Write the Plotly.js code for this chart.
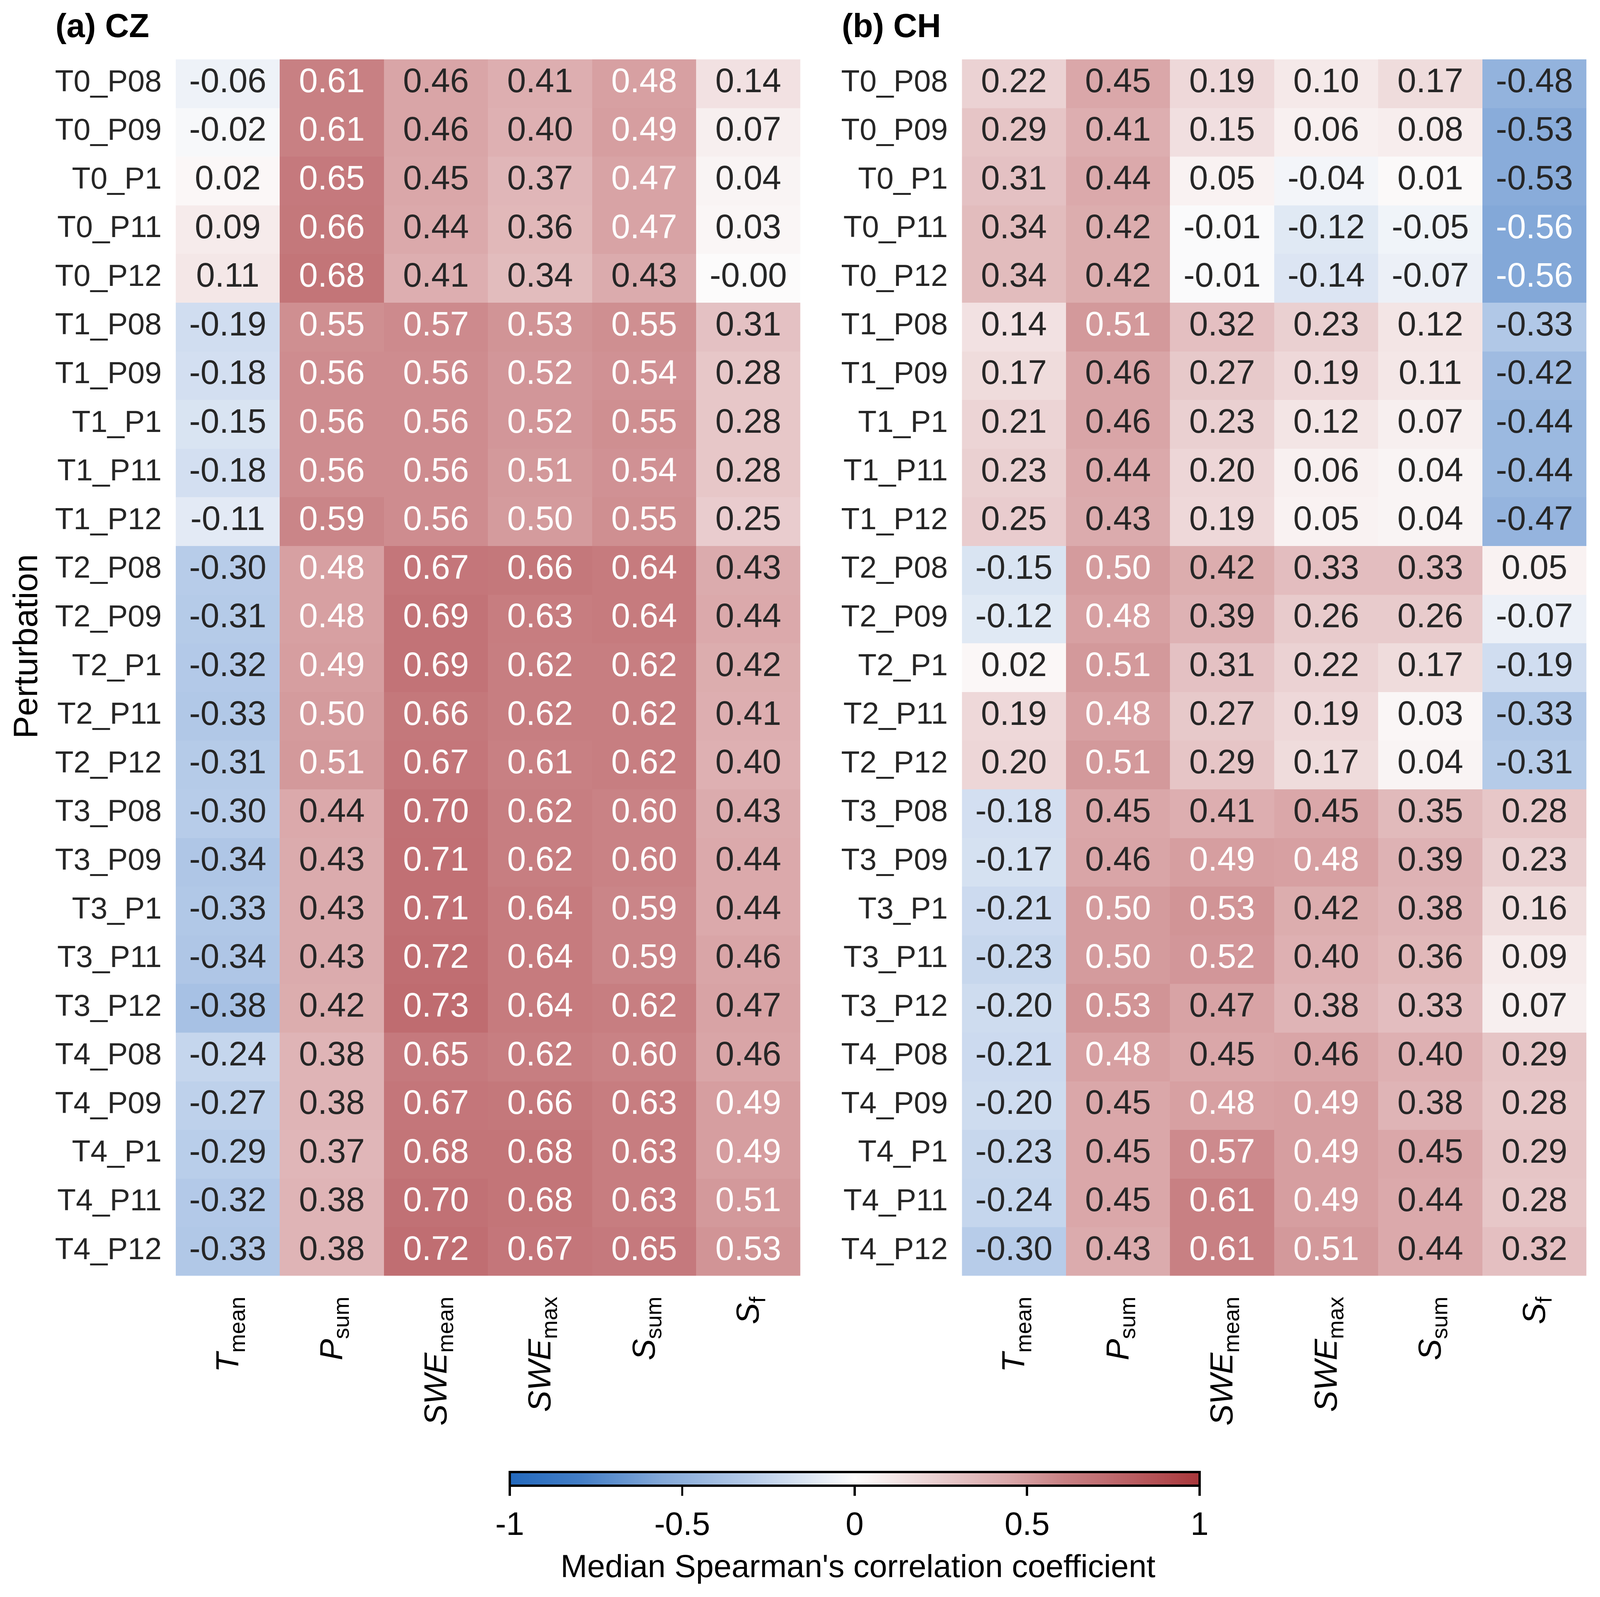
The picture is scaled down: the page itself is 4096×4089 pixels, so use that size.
<!DOCTYPE html>
<html>
<head>
<meta charset="utf-8">
<script src="https://cdn.plot.ly/plotly-3.0.1.min.js"></script>
<style>
  html, body { margin: 0; padding: 0; background: #ffffff; }
  #chart { width: 4096px; height: 4089px; }
</style>
</head>
<body>
<div id="chart"></div>
<script>
// ---------------- data ----------------
const rows = ['T0_P08','T0_P09','T0_P1','T0_P11','T0_P12',
              'T1_P08','T1_P09','T1_P1','T1_P11','T1_P12',
              'T2_P08','T2_P09','T2_P1','T2_P11','T2_P12',
              'T3_P08','T3_P09','T3_P1','T3_P11','T3_P12',
              'T4_P08','T4_P09','T4_P1','T4_P11','T4_P12'];
const cols = ['Tmean','Psum','SWEmean','SWEmax','Ssum','Sf'];
const colLabels = ['<i>T</i><sub>mean</sub>','<i>P</i><sub>sum</sub>','<i>SWE</i><sub>mean</sub>',
                   '<i>SWE</i><sub>max</sub>','<i>S</i><sub>sum</sub>','<i>S</i><sub>f</sub>'];
const cbTicks = [-1, -0.5, 0, 0.5, 1];
const cbTickText = ['-1', '-0.5', '0', '0.5', '1'];

// (a) CZ
const czTmean   = [-0.06,-0.02,0.02,0.09,0.11, -0.19,-0.18,-0.15,-0.18,-0.11, -0.30,-0.31,-0.32,-0.33,-0.31, -0.30,-0.34,-0.33,-0.34,-0.38, -0.24,-0.27,-0.29,-0.32,-0.33];
const czPsum    = [0.61,0.61,0.65,0.66,0.68, 0.55,0.56,0.56,0.56,0.59, 0.48,0.48,0.49,0.50,0.51, 0.44,0.43,0.43,0.43,0.42, 0.38,0.38,0.37,0.38,0.38];
const czSWEmean = [0.46,0.46,0.45,0.44,0.41, 0.57,0.56,0.56,0.56,0.56, 0.67,0.69,0.69,0.66,0.67, 0.70,0.71,0.71,0.72,0.73, 0.65,0.67,0.68,0.70,0.72];
const czSWEmax  = [0.41,0.40,0.37,0.36,0.34, 0.53,0.52,0.52,0.51,0.50, 0.66,0.63,0.62,0.62,0.61, 0.62,0.62,0.64,0.64,0.64, 0.62,0.66,0.68,0.68,0.67];
const czSsum    = [0.48,0.49,0.47,0.47,0.43, 0.55,0.54,0.55,0.54,0.55, 0.64,0.64,0.62,0.62,0.62, 0.60,0.60,0.59,0.59,0.62, 0.60,0.63,0.63,0.63,0.65];
const czSf      = [0.14,0.07,0.04,0.03,-0.00, 0.31,0.28,0.28,0.28,0.25, 0.43,0.44,0.42,0.41,0.40, 0.43,0.44,0.44,0.46,0.47, 0.46,0.49,0.49,0.51,0.53];

// (b) CH
const chTmean   = [0.22,0.29,0.31,0.34,0.34, 0.14,0.17,0.21,0.23,0.25, -0.15,-0.12,0.02,0.19,0.20, -0.18,-0.17,-0.21,-0.23,-0.20, -0.21,-0.20,-0.23,-0.24,-0.30];
const chPsum    = [0.45,0.41,0.44,0.42,0.42, 0.51,0.46,0.46,0.44,0.43, 0.50,0.48,0.51,0.48,0.51, 0.45,0.46,0.50,0.50,0.53, 0.48,0.45,0.45,0.45,0.43];
const chSWEmean = [0.19,0.15,0.05,-0.01,-0.01, 0.32,0.27,0.23,0.20,0.19, 0.42,0.39,0.31,0.27,0.29, 0.41,0.49,0.53,0.52,0.47, 0.45,0.48,0.57,0.61,0.61];
const chSWEmax  = [0.10,0.06,-0.04,-0.12,-0.14, 0.23,0.19,0.12,0.06,0.05, 0.33,0.26,0.22,0.19,0.17, 0.45,0.48,0.42,0.40,0.38, 0.46,0.49,0.49,0.49,0.51];
const chSsum    = [0.17,0.08,0.01,-0.05,-0.07, 0.12,0.11,0.07,0.04,0.04, 0.33,0.26,0.17,0.03,0.04, 0.35,0.39,0.38,0.36,0.33, 0.40,0.38,0.45,0.44,0.44];
const chSf      = [-0.48,-0.53,-0.53,-0.56,-0.56, -0.33,-0.42,-0.44,-0.44,-0.47, 0.05,-0.07,-0.19,-0.33,-0.31, 0.28,0.23,0.16,0.09,0.07, 0.29,0.28,0.29,0.28,0.32];

// ---------------- styling / building ----------------
const FONT = 'Liberation Sans, Arial, Helvetica, sans-serif';
const DARK = '#262626';
const colorscale = [
  [0.00, 'rgb(35,105,189)'],
  [0.10, 'rgb(66,125,198)'],
  [0.22, 'rgb(131,168,216)'],
  [0.35, 'rgb(183,204,233)'],
  [0.47, 'rgb(238,242,248)'],
  [0.50, 'rgb(252,251,251)'],
  [0.545,'rgb(246,235,235)'],
  [0.61, 'rgb(235,210,211)'],
  [0.73, 'rgb(217,165,167)'],
  [0.805,'rgb(200,128,131)'],
  [0.86, 'rgb(192,110,114)'],
  [1.00, 'rgb(169,55,59)']
];
// cells whose (borderline) label is drawn in white in the reference
const lightLabelOverrides = { cz: ['T0_P1|Ssum', 'T0_P11|Ssum'], ch: [] };

function fmt(v) {
  const neg = v < 0 || Object.is(v, -0);
  return (neg ? '-' : '') + Math.abs(v).toFixed(2);
}
function textColor(v, key, overrides) {
  if (overrides.indexOf(key) >= 0) return '#ffffff';
  return (v >= 0.475 || v <= -0.545) ? '#ffffff' : DARK;
}

function build(colArrays, xa, ya, overrides) {
  const z = rows.map((r, i) => colArrays.map(a => a[i]));
  const heat = {
    type: 'heatmap', x: cols, y: rows, z: z,
    coloraxis: 'coloraxis', xaxis: xa, yaxis: ya,
    hoverinfo: 'skip'
  };
  const tx = [], ty = [], tt = [], tc = [];
  rows.forEach((r, i) => {
    colArrays.forEach((a, j) => {
      tx.push(cols[j]); ty.push(r); tt.push(fmt(a[i]));
      tc.push(textColor(a[i], r + '|' + cols[j], overrides));
    });
  });
  const txt = {
    type: 'scatter', mode: 'text', x: tx, y: ty, text: tt,
    textposition: 'middle center',
    textfont: { family: FONT, size: 86.7, color: tc },
    xaxis: xa, yaxis: ya, hoverinfo: 'skip', showlegend: false, cliponaxis: false
  };
  return [heat, txt];
}

const data = [
  ...build([czTmean, czPsum, czSWEmean, czSWEmax, czSsum, czSf], 'x', 'y', lightLabelOverrides.cz),
  ...build([chTmean, chPsum, chSWEmean, chSWEmax, chSsum, chSf], 'x2', 'y2', lightLabelOverrides.ch)
];

const W = 4096, H = 4089;
const yTop = 151.9, yBot = 3266.6;
const yDomain = [1 - yBot / H, 1 - yTop / H];

function xAxis(domain, anchor) {
  return {
    domain: domain, anchor: anchor, type: 'category',
    range: [-0.5, 5.5], tickvals: cols, ticktext: colLabels,
    tickangle: -90, ticks: '', ticklabelstandoff: 36,
    showgrid: false, zeroline: false, showline: false,
    tickfont: { family: FONT, size: 82, color: '#000000' },
    fixedrange: true
  };
}
function yAxis(anchor) {
  return {
    domain: yDomain, anchor: anchor, type: 'category',
    range: [24.5, -0.5], ticks: '', ticklabelstandoff: 35, ticklabelshift: 8,
    showgrid: false, zeroline: false, showline: false,
    tickfont: { family: FONT, size: 78, color: DARK },
    fixedrange: true
  };
}

const layout = {
  width: W, height: H,
  margin: { l: 0, r: 0, t: 0, b: 0, pad: 0 },
  paper_bgcolor: '#ffffff', plot_bgcolor: '#ffffff',
  font: { family: FONT, color: DARK },
  showlegend: false,
  xaxis: xAxis([449.9 / W, 2048.8 / W], 'y'),
  yaxis: yAxis('x'),
  xaxis2: xAxis([2462.4 / W, 4061.3 / W], 'y2'),
  yaxis2: yAxis('x2'),
  coloraxis: {
    cmin: -1, cmax: 1, colorscale: colorscale,
    colorbar: {
      orientation: 'h',
      x: 2187.9 / W, xanchor: 'center',
      y: 1 - 3769 / H, yanchor: 'top', yref: 'paper',
      len: 1766.3, lenmode: 'pixels',
      thickness: 34.5, thicknessmode: 'pixels',
      xpad: 0, ypad: 0,
      outlinewidth: 6, outlinecolor: '#000000',
      ticks: 'outside', ticklen: 23.4, tickwidth: 5.8, tickcolor: '#000000',
      tickvals: cbTicks, ticktext: cbTickText,
      tickfont: { family: FONT, size: 83, color: '#000000' }
    }
  },
  annotations: [
    { text: '<b>(a) CZ</b>', xref: 'paper', yref: 'paper', x: 140 / W, y: 1 - 65.7 / H,
      xanchor: 'left', yanchor: 'middle', showarrow: false,
      font: { family: FONT, size: 84.7, color: '#000000' } },
    { text: '<b>(b) CH</b>', xref: 'paper', yref: 'paper', x: 2153 / W, y: 1 - 65.7 / H,
      xanchor: 'left', yanchor: 'middle', showarrow: false,
      font: { family: FONT, size: 84.7, color: '#000000' } },
    { text: 'Perturbation', xref: 'paper', yref: 'paper', x: 65 / W, y: 1 - 1655 / H,
      xanchor: 'center', yanchor: 'middle', textangle: -90, showarrow: false,
      font: { family: FONT, size: 86.7, color: '#000000' } },
    { text: "Median Spearman's correlation coefficient", xref: 'paper', yref: 'paper',
      x: 2196 / W, y: 1 - 4009 / H, xanchor: 'center', yanchor: 'middle', showarrow: false,
      font: { family: FONT, size: 82, color: '#000000' } }
  ]
};

Plotly.newPlot('chart', data, layout, { staticPlot: true, displayModeBar: false });
</script>
</body>
</html>
